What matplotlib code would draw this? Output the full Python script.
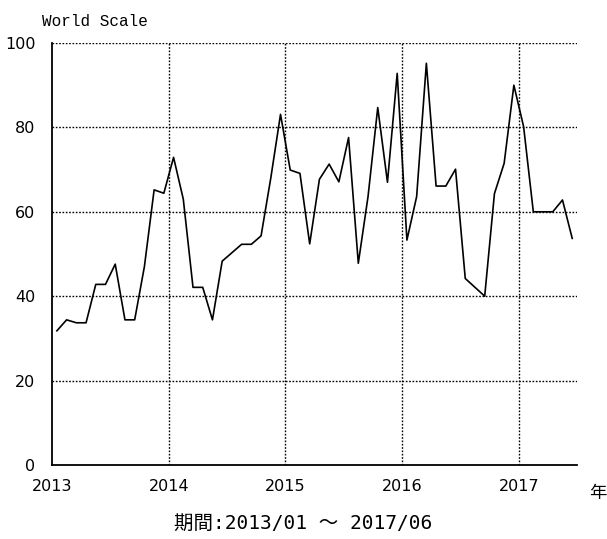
import numpy as np
import matplotlib
matplotlib.use("Agg")
import matplotlib.pyplot as plt

# monthly values, 2013/01 - 2017/06
values_2013 = [31.8, 34.4, 33.7, 33.7, 42.8, 42.8, 47.6, 34.4, 34.4, 47.0, 65.2, 64.4]
values_2014 = [72.9, 63.0, 42.1, 42.1, 34.4, 48.3, 50.3, 52.3, 52.3, 54.3, 68.0, 83.1]
values_2015 = [69.9, 69.1, 52.4, 67.7, 71.3, 67.1, 77.6, 47.8, 63.6, 84.7, 67.0, 92.8]
values_2016 = [53.3, 63.6, 95.2, 66.1, 66.1, 70.1, 44.2, 42.1, 40.0, 64.3, 71.5, 90.0]
values_2017 = [80.2, 60.0, 60.0, 60.0, 62.8, 53.7]

years = [2013, 2014, 2015, 2016, 2017]
year_labels = ["2013", "2014", "2015", "2016", "2017"]
y_ticks = [0, 20, 40, 60, 80, 100]

values = values_2013 + values_2014 + values_2015 + values_2016 + values_2017
# points sit in the middle of each month
t = 2013 + (np.arange(len(values)) + 0.5) / 12.0

jp_mono = ["DejaVu Sans Mono", "Noto Sans CJK JP"]
tick_font = ["DejaVu Sans"]

fig = plt.figure(figsize=(6.07, 5.39), dpi=100)
ax = fig.add_axes([0.0857, 0.1373, 0.865, 0.7829])

ax.plot(t, values, color="black", lw=1.2)

ax.set_xlim(2013, 2017.5)
ax.set_ylim(0, 100)
ax.set_xticks(years)
ax.set_xticklabels(year_labels, family=tick_font, fontsize=11.5)
ax.set_yticks(y_ticks)
ax.set_yticklabels([str(v) for v in y_ticks], family=tick_font, fontsize=11.5)
ax.tick_params(length=0, pad=10)
ax.tick_params(axis="y", pad=12)

for v in y_ticks[1:]:
    ax.axhline(v, color="black", lw=1.0, ls=(0, (1.2, 1.2)), zorder=0)
for yr in years[1:]:
    ax.axvline(yr, color="black", lw=1.0, ls=(0, (1.2, 1.2)), zorder=0)

for s in ["top", "right"]:
    ax.spines[s].set_visible(False)
ax.spines["left"].set_linewidth(1.3)
ax.spines["bottom"].set_linewidth(1.3)

fig.text(42 / 607, 1 - 22 / 539, "World Scale", family="Liberation Mono",
         fontsize=11.5, va="center", ha="left")
fig.text(598 / 607, 1 - 493 / 539, "年", family="Noto Sans CJK JP",
         fontsize=12.5, va="center", ha="center")
fig.text(0.5, 1 - 523 / 539, "期間:2013/01 〜 2017/06", family=jp_mono,
         fontsize=14, va="center", ha="center")

fig.savefig("out.png", dpi=100)
